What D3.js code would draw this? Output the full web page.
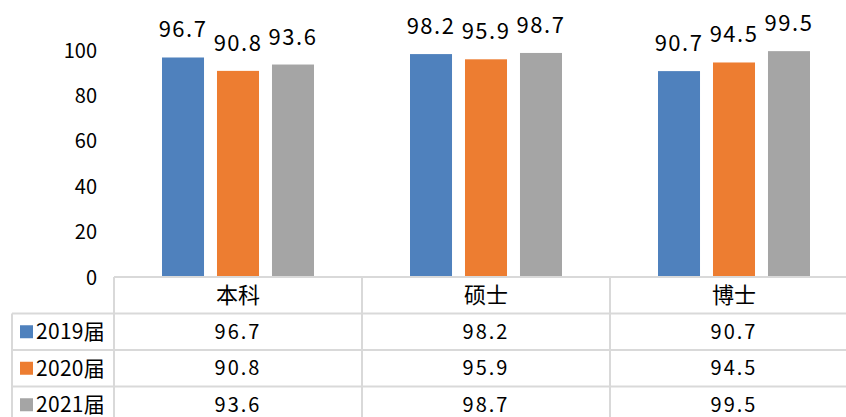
<!DOCTYPE html>
<html>
<head>
<meta charset="utf-8">
<script src="https://cdn.jsdelivr.net/npm/d3@7"></script>
<style>
  body { margin: 0; background: #fff; }
  text { font-family: "Noto Sans CJK SC", "Noto Sans", sans-serif; fill: #000; }
</style>
</head>
<body>
<svg id="chart" width="846" height="417"></svg>
<script>
// data
var categories = ["本科", "硕士", "博士"];
var seriesNames = ["2019届", "2020届", "2021届"];
var values2019 = [96.7, 98.2, 90.7];
var values2020 = [90.8, 95.9, 94.5];
var values2021 = [93.6, 98.7, 99.5];
var yTicks = [0, 20, 40, 60, 80, 100];
var colors = ["#4f81bd", "#ed7d31", "#a5a5a5"];

var seriesValues = [values2019, values2020, values2021];

var svg = d3.select("#chart");

var tableLeft = 12, plotLeft = 114, baseY = 277;
var rowH = 36.5;

// category bands (also table columns)
var x0 = d3.scaleBand()
  .domain(categories)
  .range([plotLeft, plotLeft + 248 * 3])
  .padding(0);

// series within a category
var x1 = d3.scaleBand()
  .domain(seriesNames)
  .range([48, 200])
  .paddingInner(0.236)
  .paddingOuter(0);

var y = d3.scaleLinear()
  .domain([0, 100])
  .range([baseY, 50]);

// y axis, labels only
var yAxis = svg.append("g")
  .attr("transform", "translate(" + 97 + ",0)")
  .call(d3.axisLeft(y).tickValues(yTicks).tickSize(0).tickPadding(0));
yAxis.select(".domain").remove();
yAxis.selectAll("text")
  .attr("font-size", 20)
  .attr("dy", "0.35em")
  .style("font-family", "'Noto Sans CJK SC', sans-serif");

// bars
var rows = [];
categories.forEach(function(c, ci) {
  seriesNames.forEach(function(s, si) {
    rows.push({cat: c, series: s, si: si, value: seriesValues[si][ci]});
  });
});

var groups = svg.append("g").selectAll("g")
  .data(categories)
  .enter().append("g")
  .attr("transform", function(d) { return "translate(" + x0(d) + ",0)"; });

groups.selectAll("rect")
  .data(function(c) { return rows.filter(function(r) { return r.cat == c; }); })
  .enter().append("rect")
  .attr("x", function(d) { return x1(d.series); })
  .attr("width", x1.bandwidth())
  .attr("y", function(d) { return y(d.value); })
  .attr("height", function(d) { return baseY - y(d.value); })
  .attr("fill", function(d) { return colors[d.si]; });

// value labels above bars
groups.selectAll("text.lbl")
  .data(function(c) { return rows.filter(function(r) { return r.cat == c; }); })
  .enter().append("text")
  .attr("class", "lbl")
  .attr("x", function(d) { return x1(d.series) + x1.bandwidth() / 2; })
  .attr("y", function(d) { return y(d.value) - 20; })
  .attr("text-anchor", "middle")
  .attr("font-size", 22)
  .attr("letter-spacing", 1.5)
  .text(function(d) { return d.value.toFixed(1); });

// data table
var grid = svg.append("g")
  .attr("stroke", "#d9d9d9")
  .attr("stroke-width", 2);

var right = 846;
// header top line
grid.append("line").attr("x1", plotLeft).attr("x2", right).attr("y1", baseY).attr("y2", baseY);
// series row lines
d3.range(1, 4).forEach(function(i) {
  var yy = baseY + rowH * i;
  grid.append("line").attr("x1", tableLeft).attr("x2", right).attr("y1", yy).attr("y2", yy);
});
// left border of the table
grid.append("line").attr("x1", tableLeft).attr("x2", tableLeft).attr("y1", baseY + rowH).attr("y2", 417);
// column separators
[plotLeft].concat(categories.slice(1).map(function(c) { return x0(c); })).forEach(function(xx) {
  grid.append("line").attr("x1", xx).attr("x2", xx).attr("y1", baseY).attr("y2", 417);
});

// header: categories
svg.append("g").selectAll("text")
  .data(categories)
  .enter().append("text")
  .attr("x", function(d) { return x0(d) + x0.bandwidth() / 2; })
  .attr("y", baseY + rowH / 2)
  .attr("dy", "0.36em")
  .attr("text-anchor", "middle")
  .attr("font-size", 22)
  .text(function(d) { return d; });

// series rows
seriesNames.forEach(function(s, si) {
  var cy = baseY + rowH * (si + 1) + rowH / 2;
  svg.append("rect")
    .attr("x", 20).attr("y", cy - 6.5)
    .attr("width", 13).attr("height", 13)
    .attr("fill", colors[si]);
  svg.append("text")
    .attr("x", 36).attr("y", cy)
    .attr("dy", "0.36em")
    .attr("font-size", 21)
    .attr("letter-spacing", 0.3)
    .text(s);
  svg.append("g").selectAll("text")
    .data(categories)
    .enter().append("text")
    .attr("x", function(c) { return x0(c) + x0.bandwidth() / 2; })
    .attr("y", cy)
    .attr("dy", "0.36em")
    .attr("text-anchor", "middle")
    .attr("font-size", 20)
    .attr("letter-spacing", 2)
    .text(function(c, ci) { return seriesValues[si][ci].toFixed(1); });
});
</script>
</body>
</html>
